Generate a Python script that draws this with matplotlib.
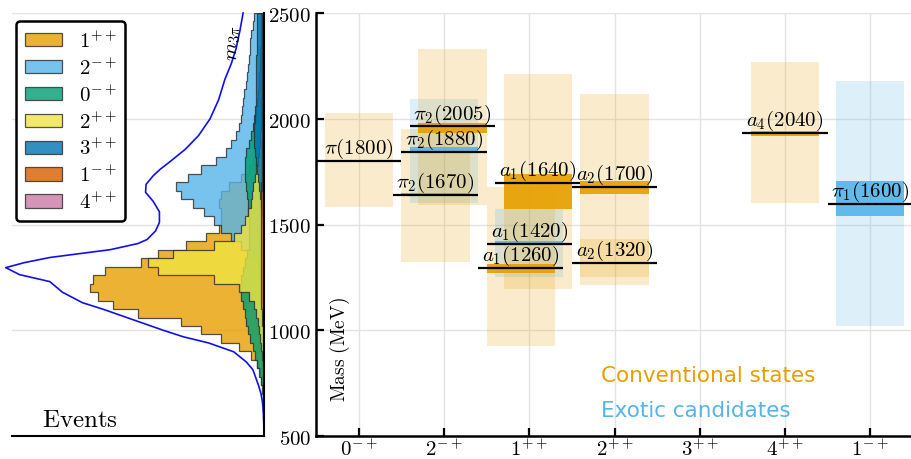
import numpy as np
import matplotlib.pyplot as plt
from matplotlib.patches import Patch

plt.rcParams['mathtext.fontset'] = 'cm'

# ---- left panel: partial-wave intensities vs m(3pi), 40 MeV bins ----
mass_edges = np.arange(500, 2501, 40)

wave_labels = [r'$1^{++}$', r'$2^{-+}$', r'$0^{-+}$', r'$2^{++}$', r'$3^{++}$', r'$1^{-+}$', r'$4^{++}$']
wave_colors = ['#E69F00', '#56B4E9', '#009E73', '#F0E442', '#0072B2', '#D55E00', '#CC79A7']

wave_1pp = [0, 0, 0.001, 0.002, 0.004, 0.006, 0.01, 0.016, 0.028, 0.05,
            0.1, 0.17, 0.25, 0.33, 0.5, 0.6, 0.66, 0.69, 0.68, 0.63,
            0.49, 0.42, 0.31, 0.23, 0.18, 0.17, 0.17, 0.18, 0.17, 0.14,
            0.09, 0.06, 0.045, 0.035, 0.03, 0.026, 0.023, 0.021, 0.02, 0.019,
            0.018, 0.017, 0.016, 0.015, 0.014, 0.013, 0.012, 0.012, 0.011, 0.01]
wave_2mp = [0, 0, 0, 0, 0, 0, 0, 0, 0, 0,
            0, 0, 0, 0, 0, 0, 0.003, 0.006, 0.01, 0.016,
            0.025, 0.045, 0.09, 0.13, 0.17, 0.2, 0.24, 0.28, 0.33, 0.35,
            0.3, 0.25, 0.19, 0.15, 0.13, 0.11, 0.1, 0.09, 0.088, 0.085,
            0.08, 0.073, 0.068, 0.064, 0.06, 0.057, 0.054, 0.05, 0.045, 0.04]
wave_0mp = [0, 0, 0.001, 0.002, 0.003, 0.005, 0.01, 0.018, 0.027, 0.036,
            0.045, 0.055, 0.062, 0.07, 0.077, 0.084, 0.09, 0.095, 0.09, 0.082,
            0.074, 0.066, 0.061, 0.058, 0.058, 0.06, 0.062, 0.065, 0.068, 0.072,
            0.075, 0.077, 0.075, 0.07, 0.06, 0.052, 0.045, 0.038, 0.032, 0.027,
            0.023, 0.02, 0.018, 0.016, 0.015, 0.014, 0.013, 0.012, 0.011, 0.01]
wave_2pp = [0, 0, 0, 0, 0, 0, 0, 0.002, 0.004, 0.006,
            0.01, 0.015, 0.02, 0.025, 0.03, 0.04, 0.06, 0.1, 0.2, 0.42,
            0.46, 0.36, 0.2, 0.12, 0.09, 0.075, 0.062, 0.052, 0.046, 0.042,
            0.036, 0.03, 0.025, 0.02, 0.017, 0.015, 0.013, 0.012, 0.011, 0.01,
            0.009, 0.009, 0.008, 0.008, 0.007, 0.007, 0.006, 0.006, 0.005, 0.005]
wave_3pp = [0, 0, 0, 0, 0, 0, 0, 0, 0, 0,
            0, 0, 0, 0, 0, 0, 0, 0, 0, 0.001,
            0.001, 0.001, 0.002, 0.003, 0.004, 0.005, 0.007, 0.01, 0.014, 0.019,
            0.024, 0.029, 0.033, 0.037, 0.04, 0.04, 0.038, 0.036, 0.034, 0.033,
            0.032, 0.031, 0.03, 0.03, 0.03, 0.029, 0.029, 0.028, 0.028, 0.027]
wave_1mp = [0, 0, 0, 0, 0, 0, 0, 0, 0, 0.001,
            0.002, 0.003, 0.004, 0.006, 0.008, 0.01, 0.011, 0.012, 0.012, 0.013,
            0.013, 0.013, 0.013, 0.013, 0.013, 0.012, 0.012, 0.012, 0.011, 0.01,
            0.009, 0.008, 0.007, 0.006, 0.006, 0.005, 0.005, 0.005, 0.004, 0.004,
            0.004, 0.004, 0.004, 0.003, 0.003, 0.003, 0.003, 0.003, 0.003, 0.003]
wave_4pp = [0, 0, 0, 0, 0, 0, 0, 0, 0, 0,
            0, 0, 0, 0, 0, 0, 0, 0, 0, 0,
            0, 0, 0, 0, 0, 0.002, 0.003, 0.004, 0.005, 0.006,
            0.007, 0.008, 0.008, 0.008, 0.008, 0.008, 0.008, 0.008, 0.008, 0.008,
            0.008, 0.008, 0.008, 0.008, 0.008, 0.008, 0.008, 0.008, 0.008, 0.008]

# total m(3pi) distribution (blue curve)
curve_mass = [500, 560, 620, 660, 700, 740, 780, 813, 850, 898, 940, 969, 1000, 1050, 1100,
              1130, 1180, 1230, 1263, 1296, 1320, 1344, 1381, 1410, 1429, 1470, 1510, 1560,
              1610, 1652, 1690, 1730, 1760, 1800, 1855, 1920, 2000, 2090, 2187, 2260, 2330,
              2420, 2500]
curve_events = [0.0, 0.001, 0.003, 0.006, 0.012, 0.022, 0.034, 0.044, 0.07, 0.12, 0.22, 0.32,
                0.4, 0.52, 0.64, 0.72, 0.8, 0.85, 0.97, 1.025, 0.95, 0.85, 0.61, 0.5, 0.464,
                0.43, 0.415, 0.415, 0.44, 0.47, 0.468, 0.44, 0.413, 0.37, 0.313, 0.26, 0.214,
                0.18, 0.155, 0.13, 0.111, 0.095, 0.083]

# ---- right panel: resonances ----
jpc_labels = [r'$0^{-+}$', r'$2^{-+}$', r'$1^{++}$', r'$2^{++}$', r'$3^{++}$', r'$4^{++}$', r'$1^{-+}$']
state_names = [r'$\pi(1800)$', r'$\pi_2(1670)$', r'$\pi_2(1880)$', r'$\pi_2(2005)$',
               r'$a_1(1260)$', r'$a_1(1420)$', r'$a_1(1640)$', r'$a_2(1320)$',
               r'$a_2(1700)$', r'$a_4(2040)$', r'$\pi_1(1600)$']
state_x = [1.0, 1.9, 2.0, 2.1, 2.9, 3.0, 3.1, 4.0, 4.0, 6.0, 7.0]
state_exotic = [False, False, True, False, False, True, False, False, False, False, True]
state_mass = [1800, 1639, 1844, 1964, 1295, 1409, 1697, 1318, 1679, 1934, 1598]
band_lo = [1796, 1638, 1846, 1934, 1272, 1409, 1572, 1312, 1642, 1920, 1539]
band_hi = [1803, 1651, 1866, 1981, 1311, 1424, 1738, 1322, 1704, 1940, 1707]
range_lo = [1583, 1325, 1600, 1594, 925, 1250, 1195, 1250, 1215, 1600, 1021]
range_hi = [2025, 1953, 2093, 2332, 1679, 1571, 2212, 1430, 2118, 2267, 2179]

conv_color = '#E69F00'
exo_color = '#56B4E9'

fig = plt.figure(figsize=(9.12, 4.6), dpi=100)
ax_h = fig.add_axes([12 / 912, 23 / 460, 252 / 912, 423 / 460])
ax = fig.add_axes([316 / 912, 23 / 460, 597 / 912, 423 / 460])

# left panel
waves = [wave_1pp, wave_2mp, wave_0mp, wave_2pp, wave_3pp, wave_1mp, wave_4pp]
handles = []
for vals, col, lab in zip(waves, wave_colors, wave_labels):
    ax_h.stairs(vals, mass_edges, orientation='horizontal', baseline=0, fill=True,
                facecolor=col, alpha=0.8, edgecolor='#2b2b2b', linewidth=0.9)
    handles.append(Patch(facecolor=col, alpha=0.8, edgecolor='#2b2b2b', linewidth=0.9, label=lab))
ax_h.plot(curve_events, curve_mass, color='#1010ee', lw=1.2, clip_on=False)

ax_h.set_xlim(1.0, 0)
ax_h.set_ylim(500, 2500)
ax_h.set_yticks([500, 1000, 1500, 2000, 2500])
ax_h.grid(axis='y', color='#e3e3e3', lw=1)
ax_h.set_axisbelow(True)
ax_h.tick_params(left=False, labelleft=False, bottom=False, labelbottom=False)
ax_h.spines['top'].set_visible(False)
ax_h.spines['left'].set_visible(False)
ax_h.spines['right'].set_linewidth(1.5)
ax_h.spines['bottom'].set_linewidth(1.5)
ax_h.text(0.119, 0.012, r'$\mathrm{Events}$', transform=ax_h.transAxes, fontsize=18,
          ha='left', va='bottom')
ax_h.text(0.877, 0.932, r'$m_{3\pi}$', transform=ax_h.transAxes, fontsize=15,
          rotation=90, ha='center', va='center')
leg = ax_h.legend(handles=handles, loc='upper left', bbox_to_anchor=(0.016, 0.981),
                  borderaxespad=0, fontsize=15, handlelength=1.8, handleheight=0.6,
                  labelspacing=0.28, handletextpad=0.8, borderpad=0.42,
                  framealpha=1, fancybox=True)
leg.get_frame().set_edgecolor('black')
leg.get_frame().set_linewidth(1.8)

# right panel
colors = [exo_color if e else conv_color for e in state_exotic]
lo = np.array(range_lo)
hi = np.array(range_hi)
ax.bar(state_x, hi - lo, bottom=lo, width=0.8, color=colors, alpha=0.2, lw=0, zorder=2)
blo = np.array(band_lo)
bhi = np.array(band_hi)
ax.bar(state_x, bhi - blo, bottom=blo, width=0.8, color=colors, alpha=0.9, lw=0, zorder=3)
sx = np.array(state_x)
ax.hlines(state_mass, sx - 0.5, sx + 0.5, color='black', lw=1.6, zorder=4)
for name, x, m in zip(state_names, state_x, state_mass):
    ax.text(x, m + 3, name, ha='center', va='bottom', fontsize=15, zorder=5)

ax.set_xlim(0.5, 7.5)
ax.set_ylim(500, 2500)
ax.set_xticks(range(1, 8), labels=jpc_labels)
yt = [500, 1000, 1500, 2000, 2500]
ax.set_yticks(yt, labels=[f'${v}$' for v in yt])
ax.tick_params(direction='in', length=6, width=1.6, labelsize=15)
ax.tick_params(axis='x', pad=1.5)
ax.grid(color='#e3e3e3', lw=1)
ax.set_axisbelow(True)
ax.spines['top'].set_visible(False)
ax.spines['right'].set_visible(False)
ax.spines['left'].set_linewidth(1.8)
ax.spines['bottom'].set_linewidth(1.8)
ax.text(0.04, 0.206, r'$\mathrm{Mass\ (MeV)}$', transform=ax.transAxes, rotation=90,
        fontsize=14, ha='center', va='center')
ax.text(0.478, 0.144, 'Conventional states', color=conv_color, transform=ax.transAxes,
        fontsize=15.5, ha='left', va='center')
ax.text(0.478, 0.061, 'Exotic candidates', color=exo_color, transform=ax.transAxes,
        fontsize=15.5, ha='left', va='center')

fig.savefig('out.png', dpi=100)
